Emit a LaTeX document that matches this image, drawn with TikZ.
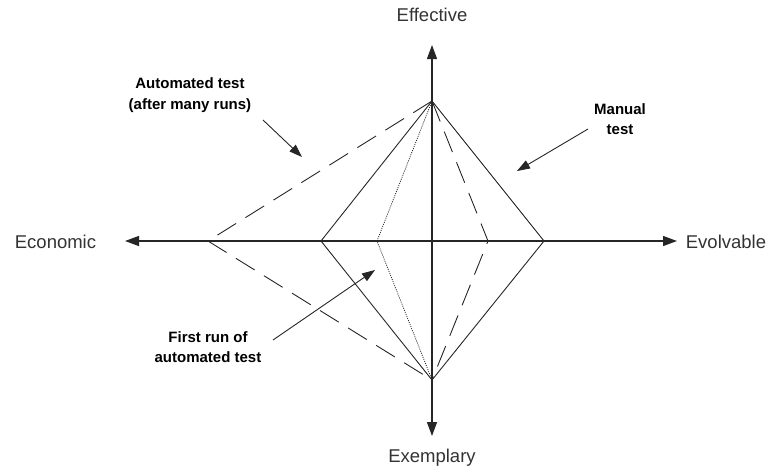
\documentclass[tikz,border=0pt]{standalone}
\usepackage{fontspec}
\setmainfont{Liberation Sans}
\usetikzlibrary{arrows.meta}
\begin{document}
\begin{tikzpicture}[x=1pt,y=-1pt,
  axis/.style={line width=1.3pt,draw=black!85,-{Triangle[length=14pt,width=10pt]}},
  shape line/.style={line width=0.9pt,draw=black!85},
  dashline/.style={shape line,dash pattern=on 22pt off 11pt},
  dotline/.style={line width=0.8pt,draw=black!85,dash pattern=on 1pt off 1.2pt},
  pointer/.style={line width=0.9pt,draw=black!85,-{Triangle[length=13pt,width=9pt]}},
  axislabel/.style={font=\fontsize{18.5}{20}\selectfont,text=black!80,inner sep=0pt},
  note/.style={font=\bfseries\fontsize{15}{20.5}\selectfont,align=center,inner sep=0pt}]
\useasboundingbox (0,0) rectangle (769,472);

% centre and vertices
\coordinate (O) at (432,241);
\coordinate (T) at (432,101);
\coordinate (B) at (432,380);
\coordinate (ML) at (321,241);
\coordinate (MR) at (544,241);
\coordinate (FL) at (377,241);
\coordinate (AL) at (208,241);
\coordinate (AR) at (488,241);

% axis ends
\coordinate (axW) at (125,241);
\coordinate (axE) at (677,241);
\coordinate (axN) at (432,45);
\coordinate (axS) at (432,436);

% axis labels
\node[axislabel] (eff) at (432,15) {Effective};
\node[axislabel] (exe) at (432,458) {Exemplary};
\node[axislabel] (eco) at (55.5,242) {Economic};
\node[axislabel] (evo) at (726,242) {Evolvable};

% axes
\draw[axis] (O) -- (axW);
\draw[axis] (O) -- (axE);
\draw[axis] (O) -- (axN);
\draw[axis] (O) -- (axS);

% manual test
\draw[shape line] (T) -- (MR) -- (B) -- (ML) -- cycle;
% automated test after many runs
\draw[dashline] (T) -- (AL) -- (B);
\draw[dashline] (T) -- (AR) -- (B);
% first run of automated test
\draw[dotline] (T) -- (FL) -- (B);

% annotations
\node[note] (autolbl) at (190,95) {Automated test\\(after many runs)};
\node[note] (manlbl) at (620,119) {Manual\\test};
\node[note] (firstlbl) at (208,347) {First run of\\automated test};

\coordinate (autoS) at (263,120);
\coordinate (autoE) at (302,157);
\coordinate (manS) at (588,129);
\coordinate (manE) at (517,171);
\coordinate (firstS) at (273,340);
\coordinate (firstE) at (375,270);

\draw[pointer] (autoS) -- (autoE);
\draw[pointer] (manS) -- (manE);
\draw[pointer] (firstS) -- (firstE);
\end{tikzpicture}
\end{document}
